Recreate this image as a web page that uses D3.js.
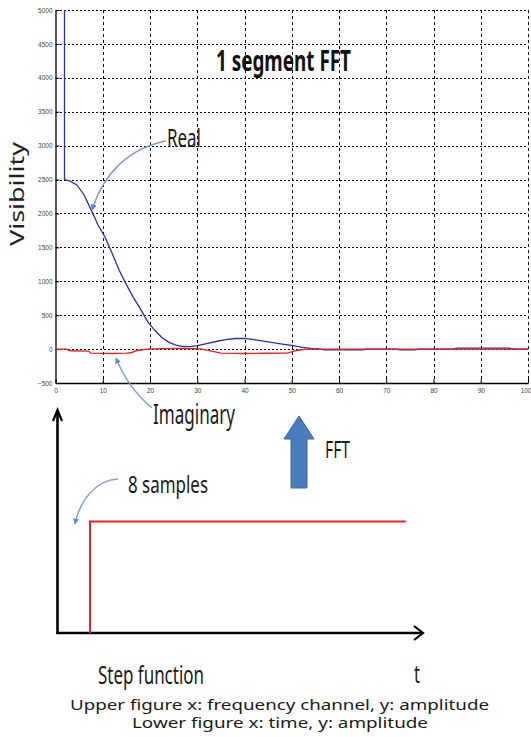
<!DOCTYPE html>
<html>
<head>
<meta charset="utf-8">
<script src="https://cdn.jsdelivr.net/npm/d3@7"></script>
<style>
  html, body { margin: 0; padding: 0; background: #fff; }
  svg { display: block; }
</style>
</head>
<body>
<svg id="chart" width="531" height="737"></svg>
<script>
// ---- Upper panel: 1-segment FFT of a step, real & imaginary parts ----
const xTicks = [0, 10, 20, 30, 40, 50, 60, 70, 80, 90, 100];
const yTicks = [-500, 0, 500, 1000, 1500, 2000, 2500, 3000, 3500, 4000, 4500, 5000];

// Real part (channel, visibility)
const realChannel = [1.9, 1.9, 3, 4.5, 6, 7.5, 9, 10.5, 12, 13.5, 15, 16.5, 18, 19.5, 21, 22.5, 24, 25.5, 27, 28.5,
  30, 32, 34, 36, 38, 40, 42, 44, 46, 48, 50, 52, 54, 56, 57, 65, 66, 72, 73, 76, 77, 84, 85, 96, 97, 100];
const realValue = [5600, 2500, 2480, 2420, 2280, 2060, 1830, 1650, 1410, 1160, 950, 760, 590, 405, 277, 170, 100, 58, 38, 36,
  50, 80, 112, 140, 156, 158, 140, 118, 95, 74, 56, 30, 10, 0, -12, -12, 0, 0, -12, -12, 0, 0, 15, 15, 0, 0];

// Imaginary part (channel, visibility)
const imagChannel = [0, 2.4, 3, 7, 7.5, 12, 15, 16, 17, 19.5, 22, 26, 30, 31, 33, 35, 40, 45, 49, 51, 53, 100];
const imagValue = [0, 0, -25, -30, -60, -64, -60, -55, -25, 0, 5, 8, 5, 0, -30, -60, -64, -62, -60, -20, 0, 0];

// ---- Lower panel: step function ----
const stepTime = [8.9, 8.9, 95.3];
const stepAmp = [0, 1, 1];

const svg = d3.select("#chart");

const x = d3.scaleLinear().domain([0, 100]).range([55.5, 528]);
const y = d3.scaleLinear().domain([-500, 5000]).range([383, 10]);
const snap = v => Math.round(v) + 0.5;

// grid
const grid = svg.append("g").attr("shape-rendering", "crispEdges");
grid.selectAll("line.v").data(xTicks.slice(1)).join("line")
  .attr("x1", d => snap(x(d))).attr("x2", d => snap(x(d)))
  .attr("y1", y(5000)).attr("y2", y(-500))
  .attr("stroke", "#000").attr("stroke-width", 1).attr("stroke-dasharray", "3,3");
grid.selectAll("line.h").data(yTicks.slice(1)).join("line")
  .attr("x1", x(0)).attr("x2", x(100))
  .attr("y1", d => snap(y(d))).attr("y2", d => snap(y(d)))
  .attr("stroke", "#000").attr("stroke-width", 1).attr("stroke-dasharray", "2,2");

// axes (MATLAB-style inward ticks)
const axisFont = "Liberation Sans, Arial, sans-serif";
const gy = svg.append("g").attr("transform", `translate(${x(0)},0)`)
  .call(d3.axisLeft(y).tickValues(yTicks).tickSizeInner(-4).tickSizeOuter(0).tickPadding(3).tickFormat(d3.format("d")));
const gx = svg.append("g").attr("transform", `translate(0,${y(-500)})`)
  .call(d3.axisBottom(x).tickValues(xTicks).tickSizeInner(-4).tickSizeOuter(0).tickPadding(5).tickFormat(d3.format("d")));
[gx, gy].forEach(g => {
  g.select(".domain").attr("stroke", "#000").attr("stroke-width", 1.3);
  g.selectAll(".tick line").attr("stroke", "#000");
  g.selectAll(".tick text").attr("font-family", axisFont).attr("font-size", 6.5).attr("fill", "#444");
});
// keep the last x label inside the page edge
gx.selectAll(".tick text").filter(d => d === 100).attr("text-anchor", "end").attr("dx", 3);

// clip for the curves
svg.append("clipPath").attr("id", "plotClip")
  .append("rect").attr("x", x(0)).attr("y", y(5000)).attr("width", x(100) - x(0)).attr("height", y(-500) - y(5000));

const line = d3.line().x(d => x(d[0])).y(d => y(d[1]));
const realPts = realChannel.map((c, i) => [c, realValue[i]]);
const imagPts = imagChannel.map((c, i) => [c, imagValue[i]]);

const curves = svg.append("g").attr("clip-path", "url(#plotClip)");
curves.append("path").datum(realPts).attr("d", line)
  .attr("fill", "none").attr("stroke", "#2b2fa0").attr("stroke-width", 1.3);
curves.append("path").datum(imagPts).attr("d", line)
  .attr("fill", "none").attr("stroke", "#e02424").attr("stroke-width", 1.4);

// arrowhead marker for annotation pointers
const defs = svg.append("defs");
defs.append("marker").attr("id", "tip").attr("viewBox", "0 0 10 10")
  .attr("refX", 9).attr("refY", 5).attr("markerWidth", 6).attr("markerHeight", 6)
  .attr("orient", "auto").attr("markerUnits", "userSpaceOnUse")
  .append("path").attr("d", "M0,0 L10,5 L0,10 Z").attr("fill", "#5b86c0");

const labelFont = "Noto Sans, Open Sans, sans-serif";
function label(txt, px, py, size, len, opts = {}) {
  return svg.append("text").attr("x", px).attr("y", py)
    .attr("font-family", labelFont).attr("font-size", size)
    .attr("font-weight", opts.weight || "normal")
    .attr("fill", opts.fill || "#1a1a1a")
    .attr("textLength", len).attr("lengthAdjust", "spacingAndGlyphs")
    .text(txt);
}

// title and annotations
label("1 segment FFT", 216, 71, 29, 135, { weight: "bold", fill: "#111" });
label("Real", 167, 147, 25, 34);
label("Imaginary", 153, 424, 27, 82);
label("FFT", 325, 458, 24, 25);
label("8 samples", 128, 493, 23, 80);
label("Step function", 98, 684, 25, 106);
label("t", 414, 683, 25, 6);
label("Upper figure x: frequency channel, y: amplitude", 70, 710, 14, 419);
label("Lower figure x: time, y: amplitude", 132, 728, 14, 296);

// y-axis title
svg.append("text").attr("transform", "translate(24,246) rotate(-90)")
  .attr("font-family", labelFont).attr("font-size", 19).attr("fill", "#222")
  .attr("textLength", 104).attr("lengthAdjust", "spacingAndGlyphs").text("Visibility");

// pointer curves
const pointers = [
  "M166,141 C130,148 104,172 92,210",
  "M152,408 Q128,388 116,358",
  "M118,479 C96,480 80,500 75,524"
];
svg.selectAll("path.ptr").data(pointers).join("path")
  .attr("d", d => d).attr("fill", "none").attr("stroke", "#7f9fcf").attr("stroke-width", 1.4)
  .attr("marker-end", "url(#tip)");

// big FFT arrow (pointing up)
const ax = 299, aTop = 416;
svg.append("path")
  .attr("d", `M${ax},${aTop} L${ax + 15},${aTop + 23} L${ax + 8},${aTop + 23} L${ax + 8},${aTop + 72} L${ax - 8},${aTop + 72} L${ax - 8},${aTop + 23} L${ax - 15},${aTop + 23} Z`)
  .attr("fill", "#4a7cbd").attr("stroke", "#3b68a3").attr("stroke-width", 1);

// lower panel scales
const t = d3.scaleLinear().domain([0, 100]).range([57.5, 423]);
const a = d3.scaleLinear().domain([0, 2]).range([633, 410]);

// axes with open chevrons
svg.append("path").attr("d", `M${t(0)},${a(0)} L${t(0)},${a(2) + 1}`)
  .attr("stroke", "#000").attr("stroke-width", 2.6).attr("fill", "none");
svg.append("path").attr("d", `M${t(0) - 4.5},${a(2) + 11} L${t(0)},${a(2)} L${t(0) + 4.5},${a(2) + 11}`)
  .attr("stroke", "#000").attr("stroke-width", 2.2).attr("fill", "none");
svg.append("path").attr("d", `M${t(0) - 1.3},${a(0)} L${t(100) - 1},${a(0)}`)
  .attr("stroke", "#000").attr("stroke-width", 2.6).attr("fill", "none");
svg.append("path").attr("d", `M${t(100) - 9},${a(0) - 7} L${t(100)},${a(0)} L${t(100) - 9},${a(0) + 7}`)
  .attr("stroke", "#000").attr("stroke-width", 2.2).attr("fill", "none");

// step function
svg.append("path").datum(stepTime.map((s, i) => [s, stepAmp[i]]))
  .attr("d", d3.line().x(d => t(d[0])).y(d => a(d[1])))
  .attr("fill", "none").attr("stroke", "#e02424").attr("stroke-width", 2);
</script>
</body>
</html>
